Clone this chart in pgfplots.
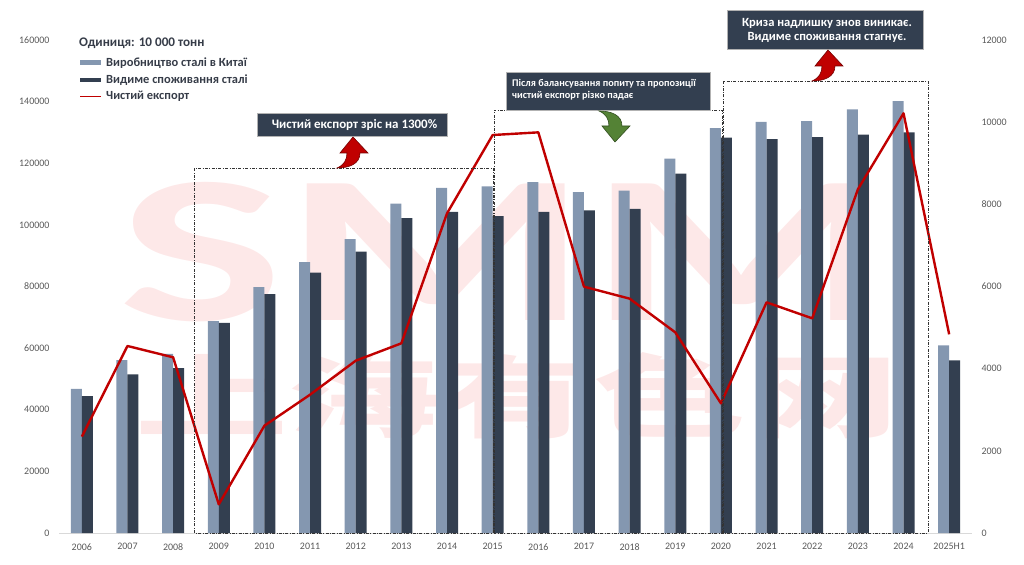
\documentclass[border=0pt]{standalone}
\usepackage{fontspec}
\setmainfont{Carlito}
\newfontfamily\cjk{Noto Sans CJK SC}
\usepackage{pgfplots}
\pgfplotsset{compat=1.18}
\definecolor{prod}{HTML}{8497B0}
\definecolor{cons}{HTML}{333F50}
\definecolor{netc}{HTML}{C00000}
\definecolor{tickc}{HTML}{595959}
\definecolor{wm}{HTML}{FDE8E8}
\definecolor{legc}{HTML}{363C48}
\definecolor{arrg}{HTML}{548235}

\begin{document}
\begin{tikzpicture}
\useasboundingbox (0,0) rectangle (1024bp,565bp);
% watermark
\begin{scope}[shift={(0bp,565bp)},x=1bp,y=-1bp]
 \node[inner sep=0, anchor=north west, text=wm] at (118,182) {\resizebox{775bp}{138bp}{\bfseries SMM}};
 \node[inner sep=0, anchor=north west, text=wm] at (135,352) {\resizebox{764bp}{78bp}{\cjk\bfseries 上海有色网}};
\end{scope}

\pgfplotsset{
  commonax/.style={
    at={(59bp,32bp)}, anchor=south west, scale only axis,
    width=913bp, height=493bp,
    xmin=-0.5, xmax=19.5,
    major tick length=0pt,
    scaled y ticks=false,
    /pgf/number format/fixed,
    /pgf/number format/precision=0,
    /pgf/number format/1000 sep={},
    /pgf/number format/assume math mode=true,
    tick label style={font=\fontsize{10}{12}\selectfont, text=tickc},
    clip=false,
  }
}

\begin{axis}[commonax,
  ymin=0, ymax=160000,
  ybar=0pt, bar width=11bp,
  axis lines*=left,
  x axis line style={draw=black!15, line width=0.75bp},
  y axis line style={draw=none},
  xtick={0,1,...,19},
  xticklabels={2006,2007,2008,2009,2010,2011,2012,2013,2014,2015,2016,2017,2018,2019,2020,2021,2022,2023,2024,2025H1},
  xticklabel style={yshift=-7bp},
  ytick={0,20000,...,160000},
  yticklabel style={xshift=-6bp},
]
\addplot[fill=prod, draw=none] coordinates {
 (0,46800) (1,56100) (2,58100) (3,68800) (4,79800) (5,87900) (6,95400) (7,106900) (8,112000) (9,112500)
 (10,113900) (11,110600) (12,111100) (13,121500) (14,131400) (15,133400) (16,133700) (17,137500) (18,140200) (19,60900)};
\addplot[fill=cons, draw=none] coordinates {
 (0,44400) (1,51500) (2,53500) (3,68200) (4,77500) (5,84500) (6,91300) (7,102200) (8,104200) (9,102800)
 (10,104200) (11,104700) (12,105200) (13,116600) (14,128300) (15,127800) (16,128500) (17,129300) (18,130000) (19,56000)};
\end{axis}

\begin{axis}[commonax,
  ymin=0, ymax=12000,
  axis x line=none,
  axis y line*=right,
  y axis line style={draw=none},
  ytick={0,2000,...,12000},
  yticklabel style={xshift=6bp, anchor=west},
]
\addplot[netc, line width=2.4bp, mark=none, line join=round] coordinates {
 (0,2345) (1,4552) (2,4276) (3,698) (4,2612) (5,3367) (6,4194) (7,4617) (8,7781) (9,9687)
 (10,9752) (11,5996) (12,5704) (13,4884) (14,3156) (15,5614) (16,5225) (17,8365) (18,10215) (19,4836)};
\end{axis}

\begin{scope}[shift={(0bp,565bp)},x=1bp,y=-1bp]
 % dash-dot frames
 \tikzset{ddot/.style={draw=black!80, line width=0.7bp, dash pattern=on 3bp off 1.5bp on 0.7bp off 1.5bp}}
 \draw[ddot] (194.7,533) rectangle (493,168);
 \draw[ddot] (494,533) rectangle (722,110);
 \draw[ddot] (723,533) rectangle (928,81);

 % text boxes
 \draw[fill=cons, draw=black!30, line width=0.7bp] (257,113) rectangle (447,136);
 \node[inner sep=0, text=white, font=\bfseries\fontsize{13}{15}\selectfont] at (354.5,124.5) {Чистий експорт зріс на 1300\%};

 \draw[fill=cons, draw=black!30, line width=0.7bp] (506,72) rectangle (710,110);
 \node[inner sep=0, anchor=west, text=white, font=\bfseries\fontsize{10.3}{12}\selectfont] at (512,83.5) {Після балансування попиту та пропозиції};
 \node[inner sep=0, anchor=west, text=white, font=\bfseries\fontsize{10.3}{12}\selectfont] at (512,95.5) {чистий експорт різко падає};

 \draw[fill=cons, draw=black!30, line width=0.7bp] (727,10) rectangle (923,49);
 \node[inner sep=0, text=white, font=\bfseries\fontsize{12.6}{14}\selectfont] at (827,23.3) {Криза надлишку знов виникає.};
 \node[inner sep=0, text=white, font=\bfseries\fontsize{12.6}{14}\selectfont] at (827,37.7) {Видиме споживання стагнує.};

 % curved arrows
 \def\curvarrowpath{(0,0) -- (15,16) -- (7,16) .. controls (7,27) and (-4,31) .. (-16,31)
     .. controls (-9,28) and (-6,23) .. (-6,16) -- (-13,16) -- cycle}
 \draw[fill=netc, draw=red!45!black, line width=0.6bp, shift={(353,137)}] \curvarrowpath;
 \draw[fill=netc, draw=red!45!black, line width=0.6bp, shift={(828,50)}] \curvarrowpath;
 \draw[fill=arrg, draw=arrg!60!black, line width=0.6bp, shift={(615,142)}, yscale=-1] \curvarrowpath;

 % legend
 \node[inner sep=0, anchor=west, text=legc, font=\bfseries\fontsize{13.2}{15}\selectfont] at (79,43.3) {Одиниця: 10 000 тонн};
 \fill[prod] (80,60.5) rectangle (101,65);
 \node[inner sep=0, anchor=west, text=legc, font=\bfseries\fontsize{12.5}{14}\selectfont] at (106,62.7) {Виробництво сталі в Китаї};
 \fill[cons] (80,77.7) rectangle (101,82.2);
 \node[inner sep=0, anchor=west, text=legc, font=\bfseries\fontsize{12.5}{14}\selectfont] at (106,80) {Видиме споживання сталі};
 \draw[netc, line width=1.6bp] (80,96.5) -- (101,96.5);
 \node[inner sep=0, anchor=west, text=legc, font=\bfseries\fontsize{12.5}{14}\selectfont] at (106,96.7) {Чистий експорт};
\end{scope}
\end{tikzpicture}
\end{document}
